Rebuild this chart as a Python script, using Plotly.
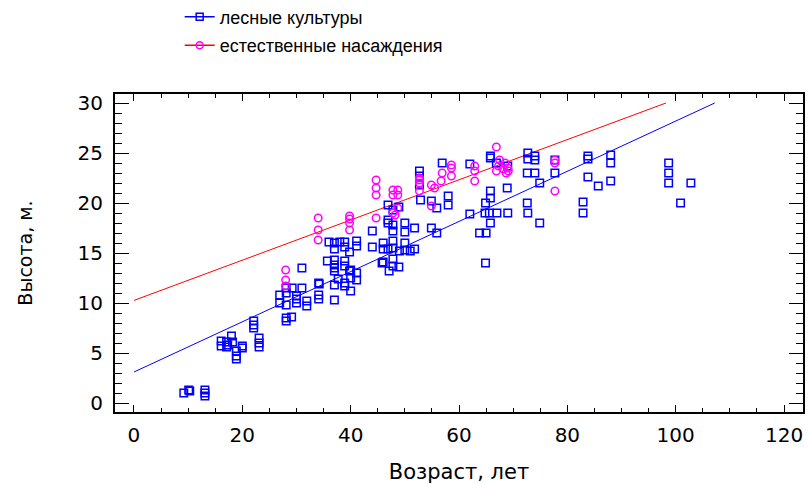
import plotly.graph_objects as go

# лесные культуры (forest plantations)
cult_age = [9.2, 10.1, 10.3, 13.1, 13.1, 13.1,
            16.1, 16.1, 17.1, 17.1, 17.3, 18.0, 18.2, 18.9, 18.9, 18.9, 20.0, 20.0,
            22.1, 22.1, 22.1, 23.1, 23.1, 23.1,
            26.9, 26.9, 28.1, 28.1, 28.1, 28.1, 28.1, 29.1, 29.2, 30.0, 30.0, 30.0,
            31.0, 31.0, 31.9, 31.9, 34.1, 34.2, 34.1, 34.1,
            35.7, 36.0, 37.0, 37.0, 37.0, 37.0, 37.0, 37.0, 37.0, 37.0, 37.7, 38.0,
            38.9, 38.9, 38.9, 38.9, 38.9, 38.9, 39.8, 39.8, 40.0, 40.0, 40.0,
            41.1, 41.1, 41.1, 41.1,
            44.0, 44.0, 45.8, 46.0, 46.0, 46.0, 46.9, 46.9, 46.9, 46.9, 47.1,
            47.8, 47.8, 47.8, 47.8, 47.8, 47.8, 47.8, 48.9, 48.9, 49.0,
            50.0, 50.0, 50.0, 50.0, 51.0, 51.8, 51.8,
            52.7, 52.7, 52.7, 52.9, 54.9, 54.9, 55.9, 55.9, 56.9, 58.0, 58.0,
            62.0, 62.0, 63.8, 64.8, 64.9, 64.9, 65.0, 65.6, 65.8, 65.8, 65.8, 65.8,
            65.8, 66.9, 67.0, 68.9, 69.0, 69.0,
            72.6, 72.6, 72.7, 72.7, 72.7, 74.0, 74.0, 74.0, 74.9, 74.9, 77.7, 77.7,
            82.9, 82.9, 83.8, 83.8, 83.8, 85.7, 88.0, 88.0, 88.0,
            98.7, 98.7, 98.7, 100.9, 102.8]
cult_height = [1.0, 1.3, 1.2, 1.3, 1.0, 0.7,
               6.2, 5.7, 6.1, 5.6, 5.8, 6.7, 6.1, 5.2, 4.7, 4.4, 5.7, 5.5,
               8.2, 7.8, 7.5, 6.5, 6.0, 5.6,
               10.8, 10.0, 11.5, 11.0, 9.8, 8.5, 8.2, 8.6, 11.5, 10.7, 10.4, 10.0,
               13.5, 11.5, 10.2, 9.7, 12.0, 11.9, 10.8, 10.4,
               14.2, 16.1, 16.0, 15.4, 14.3, 13.8, 13.5, 13.2, 11.8, 10.3, 12.4, 16.1,
               16.1, 15.6, 14.2, 13.7, 12.0, 11.7, 15.1, 13.2, 13.3, 12.5, 11.2,
               16.2, 15.7, 13.0, 12.3,
               17.2, 15.6, 14.0, 16.0, 15.4, 14.1, 19.8, 18.3, 18.0, 15.4, 13.2,
               19.3, 17.8, 17.2, 16.2, 15.5, 14.4, 13.7, 19.6, 13.6, 15.2,
               18.0, 17.1, 16.0, 15.3, 15.2, 17.5, 15.4,
               23.2, 22.7, 21.8, 20.3, 20.2, 17.5, 19.5, 17.0, 24.0, 20.7, 19.8,
               23.9, 18.9, 17.0, 19.0, 20.0, 14.0, 17.0, 19.0, 24.7, 24.5, 21.2, 20.5,
               18.0, 24.0, 19.0, 21.5, 23.7, 19.0,
               23.0, 20.0, 25.0, 24.4, 19.0, 24.7, 24.3, 23.0, 22.0, 18.0, 24.3, 23.0,
               20.1, 19.0, 24.7, 24.4, 22.6, 21.7, 24.8, 24.0, 22.2,
               24.0, 23.0, 22.0, 20.0, 22.0]

# естественные насаждения (natural stands)
nat_age = [28.0, 28.0, 28.0,
           34.0, 34.0, 34.0,
           39.8, 39.8, 39.8, 39.8,
           44.7, 44.7, 44.7, 44.7,
           47.8, 48.7, 47.8, 48.7, 47.8, 48.7, 48.2,
           52.7, 52.7, 52.7, 52.7,
           54.9, 54.9, 55.5,
           56.9, 56.7,
           58.6, 58.6, 58.6,
           62.9, 62.9, 62.9,
           66.9, 67.5, 67.3, 66.9, 68.5, 69.0, 68.7, 68.2, 69.1,
           77.7, 77.7, 77.7]
nat_height = [13.3, 12.3, 11.7,
              18.5, 17.3, 16.3,
              18.7, 18.4, 18.0, 17.3,
              22.3, 21.5, 20.8, 18.5,
              21.3, 21.3, 20.8, 20.8, 19.0, 19.5, 18.8,
              22.5, 22.0, 22.3, 21.2,
              21.8, 19.7, 21.5,
              23.0, 22.2,
              23.8, 23.5, 22.7,
              23.7, 23.2, 22.2,
              25.6, 24.3, 23.7, 23.2, 24.0, 23.5, 23.0, 23.4, 23.2,
              24.3, 24.0, 21.2]

# fitted regression lines (end points)
cult_fit_x = [0, 107.2]
cult_fit_y = [3.1, 30.0]
nat_fit_x = [0, 98.2]
nat_fit_y = [10.26, 30.0]

legend_names = ["лесные культуры", "естественные насаждения"]
x_ticks = [0, 20, 40, 60, 80, 100, 120]
y_ticks = [0, 5, 10, 15, 20, 25, 30]

BLUE = "#0000ff"
MAG = "#ff00ff"
RED = "#ff0000"

fig = go.Figure()
fig.add_trace(go.Scatter(x=cult_fit_x, y=cult_fit_y, mode="lines",
                         line=dict(color=BLUE, width=1), showlegend=False, hoverinfo="skip"))
fig.add_trace(go.Scatter(x=nat_fit_x, y=nat_fit_y, mode="lines",
                         line=dict(color=RED, width=1), showlegend=False, hoverinfo="skip"))
fig.add_trace(go.Scatter(x=cult_age, y=cult_height, mode="markers",
                         marker=dict(symbol="square-open", size=7.5, color=BLUE,
                                     line=dict(width=1.5, color=BLUE)),
                         showlegend=False))
fig.add_trace(go.Scatter(x=nat_age, y=nat_height, mode="markers",
                         marker=dict(symbol="circle-open", size=7.5, color=MAG,
                                     line=dict(width=1.5, color=MAG)),
                         showlegend=False))
# legend entries (line + marker)
fig.add_trace(go.Scatter(x=[None], y=[None], mode="lines+markers", name=legend_names[0],
                         legendgroup="a",
                         line=dict(color=BLUE, width=1.5),
                         marker=dict(symbol="square-open", size=7, color=BLUE,
                                     line=dict(width=1.5, color=BLUE))))
fig.add_trace(go.Scatter(x=[None], y=[None], mode="lines+markers", name=legend_names[1],
                         legendgroup="b",
                         line=dict(color=RED, width=1.5),
                         marker=dict(symbol="circle-open", size=7, color=MAG,
                                     line=dict(width=1.5, color=MAG))))

axis_font = dict(family="DejaVu Sans", size=20, color="black")

fig.update_layout(
    width=808, height=484,
    margin=dict(l=115, r=5, t=94, b=72, autoexpand=False),
    paper_bgcolor="white", plot_bgcolor="white",
    showlegend=True,
    legend=dict(x=0.094, y=1.30,
                xanchor="left", yanchor="top",
                font=dict(family="Liberation Sans, Arial", size=18, color="black"),
                bgcolor="rgba(0,0,0,0)", borderwidth=0,
                tracegroupgap=2, traceorder="grouped", itemwidth=30),
    xaxis=dict(range=[-3.5, 123.5], tickvals=x_ticks, ticktext=[str(v) for v in x_ticks],
               ticks="inside", ticklen=7, tickwidth=1.2, tickcolor="black",
               minor=dict(dtick=5, tick0=0, ticks="inside", ticklen=4, tickwidth=1, tickcolor="black"),
               showline=True, linecolor="black", linewidth=2, mirror="ticks",
               showgrid=False, zeroline=False,
               tickfont=axis_font, ticklabelstandoff=4,
               title=dict(text="Возраст, лет", font=dict(family="DejaVu Sans", size=21, color="black"),
                          standoff=20)),
    yaxis=dict(range=[-0.9, 30.9], tickvals=y_ticks, ticktext=[str(v) for v in y_ticks],
               ticks="inside", ticklen=14, tickwidth=1.2, tickcolor="black",
               minor=dict(dtick=1, tick0=0, ticks="inside", ticklen=7, tickwidth=1, tickcolor="black"),
               showline=True, linecolor="black", linewidth=2, mirror="ticks",
               showgrid=False, zeroline=False,
               tickfont=axis_font, ticklabelstandoff=6,
               title=dict(text="Высота, м.", font=dict(family="DejaVu Sans", size=19, color="black"),
                          standoff=40)),
)

fig.write_html("out.html")
